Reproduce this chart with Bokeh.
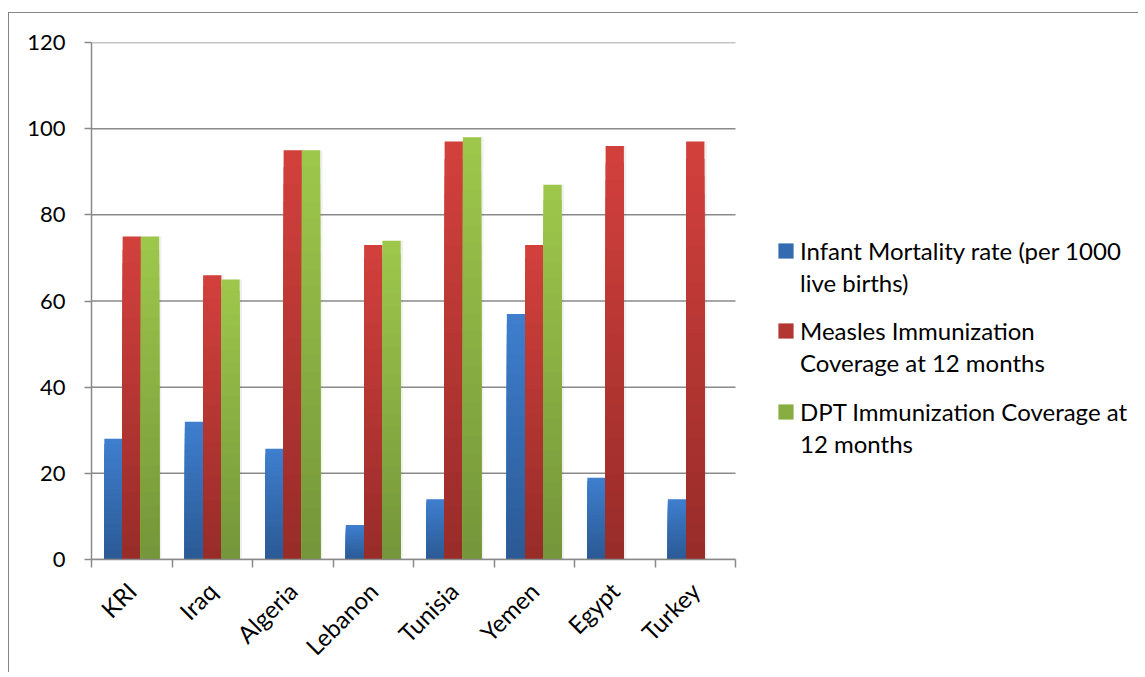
from bokeh.plotting import figure
from bokeh.models import Range1d, FixedTicker, Legend, LegendItem
from bokeh.embed import file_html
from bokeh.resources import INLINE

countries = ["KRI", "Iraq", "Algeria", "Lebanon", "Tunisia", "Yemen", "Egypt", "Turkey"]
infant_mortality = [28, 32, 25.7, 8, 14, 57, 19, 14]
measles = [75, 66, 95, 73, 97, 73, 96, 97]
dpt = [75, 65, 95, 74, 98, 87, None, None]
y_ticks = [0, 20, 40, 60, 80, 100, 120]
series_names = [
    ["Infant Mortality rate (per 1000", "live births)"],
    ["Measles Immunization", "Coverage at 12 months"],
    ["DPT Immunization Coverage at", "12 months"],
]

FONT = "Lato"
GRID = "#8a8a8a"

W, H = 1130, 660
LEFT, TOP, BOTTOM = 82, 29, 113
PX_PER_CAT = 80.5
n = len(countries)
x_end = (W - LEFT) / PX_PER_CAT

p = figure(width=W, height=H, output_backend="svg", toolbar_location=None,
           x_range=Range1d(0, x_end), y_range=Range1d(0, 120),
           min_border_left=LEFT, min_border_top=TOP, min_border_bottom=BOTTOM, min_border_right=0)
p.styles = {"border-left": "1px solid #868686", "border-top": "1px solid #868686",
            "margin-top": "12px", "margin-left": "8px"}
p.outline_line_color = None
p.background_fill_color = "white"
p.border_fill_color = "white"

p.xgrid.visible = False
p.ygrid.visible = False
# horizontal gridlines limited to the category span
p.segment(x0=[0] * len(y_ticks), x1=[n] * len(y_ticks), y0=y_ticks, y1=y_ticks,
          line_color=GRID, line_width=1.5)

# y axis
p.yaxis.ticker = FixedTicker(ticks=y_ticks)
p.yaxis.axis_line_color = GRID
p.yaxis.axis_line_width = 1.5
p.yaxis.major_tick_line_color = GRID
p.yaxis.major_tick_line_width = 1.5
p.yaxis.major_tick_out = 7
p.yaxis.major_tick_in = 0
p.yaxis.minor_tick_line_color = None
p.yaxis.major_label_standoff = 19
p.yaxis.major_label_text_font = FONT
p.yaxis.major_label_text_font_size = "22px"
p.yaxis.major_label_text_color = "black"

# x axis: labels at category centers, ticks at category boundaries
centers = [i + 0.5 for i in range(n)]
bounds = list(range(n + 1))
p.xaxis.bounds = (0, n)
p.xaxis.ticker = FixedTicker(ticks=centers, minor_ticks=bounds)
p.xaxis.major_label_overrides = {c: name for c, name in zip(centers, countries)}
p.xaxis.axis_line_color = GRID
p.xaxis.axis_line_width = 1.5
p.xaxis.major_tick_line_color = None
p.xaxis.major_tick_out = 8
p.xaxis.minor_tick_line_color = GRID
p.xaxis.minor_tick_line_width = 1.5
p.xaxis.minor_tick_out = 8
p.xaxis.minor_tick_in = 0
p.xaxis.major_label_orientation = 0.785398
p.xaxis.major_label_standoff = 19
p.xaxis.major_label_text_font = FONT
p.xaxis.major_label_text_font_size = "24px"
p.xaxis.major_label_text_color = "black"


def hex2rgb(h):
    h = h.lstrip("#")
    return [int(h[i:i + 2], 16) for i in (0, 2, 4)]


def mix(c1, c2, t):
    a, b = hex2rgb(c1), hex2rgb(c2)
    return "#%02x%02x%02x" % tuple(round(a[i] + (b[i] - a[i]) * t) for i in range(3))


styles = [("#3e7ecd", "#2b5a95"), ("#d2403c", "#982c29"), ("#9dc74b", "#75963a")]
offsets = [-0.227, 0.0, 0.227]
width = 0.227
all_series = [infant_mortality, measles, dpt]
N = 24
legend_renderers = []

for vals, (ctop, cbot), off in zip(all_series, styles, offsets):
    xs = [c + off for c, v in zip(centers, vals) if v is not None]
    vs = [v for v in vals if v is not None]
    # soft shadow
    p.vbar(x=[x + 0.03 for x in xs], top=vs, bottom=0, width=width,
           fill_color="black", fill_alpha=0.06, line_color=None)
    rs = []
    for k in range(N):
        frac = 1 - k / N
        rs.append(p.vbar(x=xs, top=[v * frac for v in vs], bottom=0, width=width,
                         fill_color=mix(ctop, cbot, k / (N - 1)), line_color=None))
    legend_renderers.append(rs[N // 2])

# legend: one small legend per series so that the wrapped lines sit as in the original
blank = p.vbar(x=[], top=[], width=0.1, fill_alpha=0, line_alpha=0)
legend_y = [261, 181, 100]
for rend, names, ly in zip(legend_renderers, series_names, legend_y):
    items = [LegendItem(label=names[0], renderers=[rend]),
             LegendItem(label=names[1], renderers=[blank])]
    lg = Legend(items=items, location=(687 - 2, ly), orientation="vertical",
                glyph_width=19, glyph_height=19, label_standoff=5,
                label_height=32, spacing=0, padding=0, margin=0,
                border_line_color=None, background_fill_alpha=0,
                label_text_font=FONT, label_text_font_size="24px", label_text_color="black")
    p.add_layout(lg, "center")

open("out.html", "w").write(file_html(p, INLINE))
